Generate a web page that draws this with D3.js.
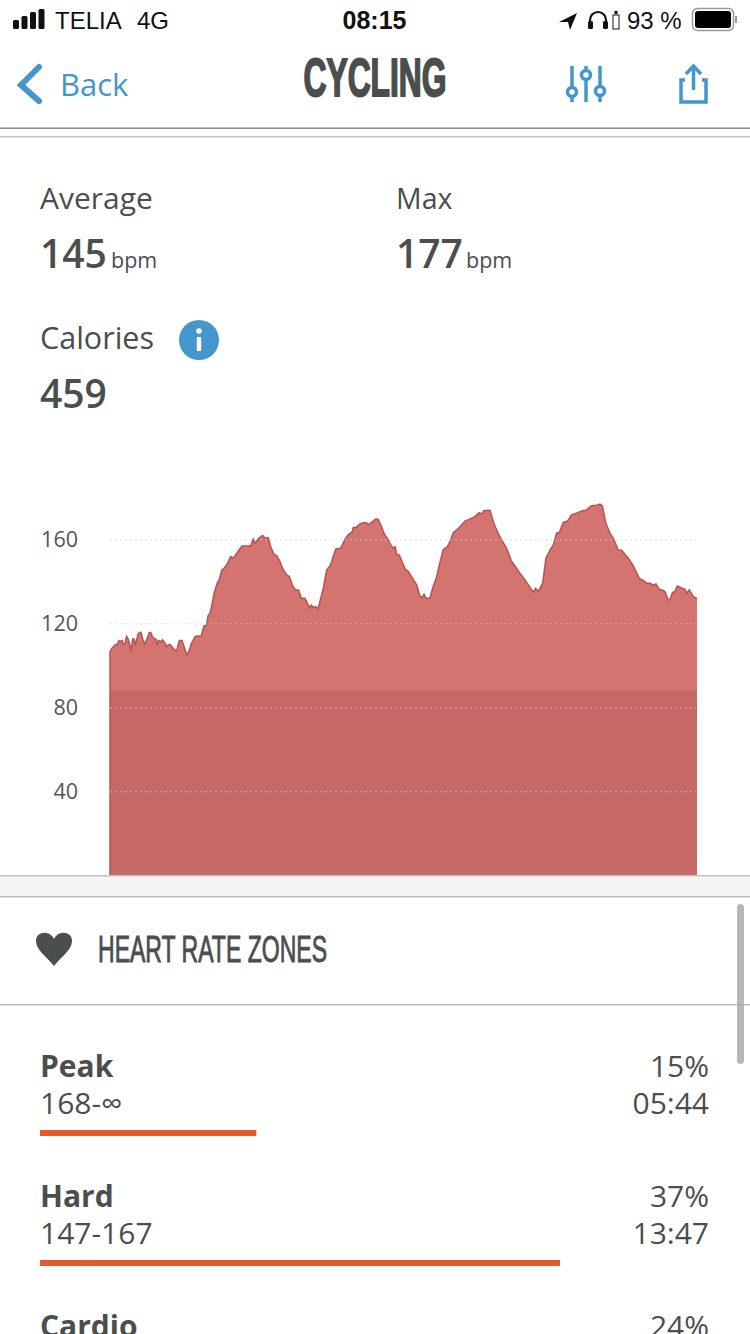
<!DOCTYPE html>
<html>
<head>
<meta charset="utf-8">
<script src="https://cdn.jsdelivr.net/npm/d3@7"></script>
<style>
  html, body { margin: 0; padding: 0; background: #fff; overflow: hidden; }
  svg { display: block; }
  text { font-family: "Open Sans", sans-serif; fill: #4a4e4f; }
  .status { font-family: "Liberation Sans", sans-serif; fill: #111; font-size: 24px; }
  .narrow { font-family: "Liberation Sans Narrow", "Liberation Sans", sans-serif; stroke: #4a4e4f; }
  .blue { fill: #4596cd; }
  .axis text { font-size: 21.5px; fill: #555; font-family: "Open Sans", sans-serif; }
  .axis .domain { display: none; }
  .axis line { stroke: #cfcfcf; stroke-opacity: 0.7; stroke-dasharray: 2 3; }
</style>
</head>
<body>
<svg width="750" height="1334"></svg>
<script>
const WIDTH = 750;
const HEIGHT = 1334;

// heart rate trace
const elapsedMin = [0,.13,.26,.38,.47,.55,.68,.77,.85,.94,1.06,1.15,1.23,1.34,1.45,1.53,1.62,1.7,1.81,1.98,2.09,2.21,2.34,2.51,2.6,2.73,2.94,3.02,3.11,3.24,3.36,3.49,3.62,3.75,3.87,4.05,4.26,4.43,4.6,4.73,4.9,5.07,5.19,5.41,5.54,5.83,6,6.17,6.26,6.39,6.51,6.64,6.81,6.98,7.15,7.28,7.45,7.71,7.88,8.09,8.43,8.98,9.15,9.26,9.5,9.75,9.92,10.11,10.26,10.47,10.64,10.86,11.07,11.33,11.45,11.67,11.84,12.05,12.22,12.45,12.77,12.86,12.99,13.16,13.29,13.46,13.63,13.84,14.09,14.26,14.43,14.73,15.01,15.22,15.48,15.54,15.71,15.97,16.18,16.39,16.48,16.71,16.99,17.14,17.35,17.5,17.78,17.93,18.1,18.22,18.31,18.48,18.7,18.87,19.04,19.29,19.59,19.8,19.93,20.06,20.19,20.44,20.61,20.87,21.04,21.29,21.55,21.72,21.93,22.19,22.36,22.68,23,23.32,23.57,23.74,23.89,24.27,24.49,24.74,25.02,25.34,25.66,25.87,26.19,26.51,26.94,27.04,27.19,27.36,27.64,27.85,28.11,28.32,28.53,28.7,28.96,29.24,29.49,29.81,30.13,30.45,30.55,30.77,31.09,31.3,31.45,31.68,31.94,32.15,32.47,32.68,33.11,33.43,33.81,34.11,34.28,34.54,34.66,34.88,35.09,35.34,35.45,35.66,35.77,35.94,36.07,36.24,36.41,36.73,36.84,37.01,37.26,37.5];
const bpm = [106.5,108.1,109.2,110,109.5,111.8,111.3,111.8,109.9,110.2,113.7,112.7,110.8,106.8,112.5,112.5,109.9,112.1,115.2,115.7,112.5,110,112.1,115.6,115.6,113.2,112.4,110,111.8,111.3,112.1,110.8,108.9,109.9,109.7,107.9,106.8,111.8,111.8,108.9,104.9,107.3,110.2,113.3,114,114,118.7,119.2,123.5,124.8,128.7,134,138.3,141,145.4,146.2,147.8,151.8,151,153.3,156.8,156.8,160,158.1,160.5,161.8,160.5,160.8,156.5,152.9,152.2,149.4,145.4,142.7,142.5,137.8,135.9,135.9,131.9,131.9,127.2,128.7,127.6,127.9,126.8,131.9,136.7,145.4,147.8,151.8,155.4,155.7,160,162.1,163.7,165.6,165.6,167.3,167.9,167.9,167,168.1,169.8,169.5,166,162.9,159.7,157.3,155.7,156.5,152.9,152.5,148.6,145.7,144.9,141.9,138.3,133,132.2,133.8,131.9,131.9,136.7,142.2,147.8,155.2,156.5,158.9,163.2,164.8,166,168.7,169.7,170.8,172.7,172.1,173.7,173.8,168.4,163.7,159.7,155.7,149.4,147.3,143.8,140.6,135.9,134.8,136.7,135.1,139.1,151,154.9,157.3,162.9,163.2,168.1,168.7,171.6,172.4,173.5,174,174.8,176,176.2,176.8,176,167.6,162.9,160.5,154.9,154.8,151,147.3,141.4,140.2,139.1,139.1,138.1,138.7,136.2,135.6,135.1,131.1,131.1,134.8,134.9,137.8,137.2,136.2,134.3,135.9,132.7,131.9];
const yTicks = [40, 80, 120, 160];
const restingBand = 88;

// zone list under the chart
const zoneNames = ['Peak', 'Hard', 'Cardio'];
const zoneRanges = ['168-∞', '147-167', ''];
const zonePercents = ['15%', '37%', '24%'];
const zoneTimes = ['05:44', '13:47', ''];
const zoneSeconds = [344, 827, null];

const svg = d3.select('svg').attr('viewBox', `0 0 ${WIDTH} ${HEIGHT}`);

function label(x, y, str, size, opts = {}) {
  return svg.append('text')
    .attr('x', x).attr('y', y)
    .attr('font-size', size)
    .attr('font-weight', opts.weight || 400)
    .attr('text-anchor', opts.anchor || 'start')
    .attr('class', opts.cls || null)
    .text(str);
}

function rule(y, color) {
  svg.append('rect').attr('x', 0).attr('y', y).attr('width', WIDTH).attr('height', 1.5).attr('fill', color);
}

// status bar
[[13, 20], [21.5, 16], [30, 12], [38.5, 9]].forEach(([x, y]) => {
  svg.append('rect').attr('x', x).attr('y', y).attr('width', 6).attr('height', 29 - y).attr('rx', 1.5).attr('fill', '#111');
});
label(55, 29, 'TELIA', 24, { cls: 'status' });
label(137, 29, '4G', 24, { cls: 'status' });
label(374.5, 29, '08:15', 25, { cls: 'status', anchor: 'middle' }).attr('font-weight', 600).style('font-size', '25px');
svg.append('path').attr('d', 'M559 22L577 13L570 30L568 22Z').attr('fill', '#111');
svg.append('path').attr('d', 'M590 27V20a8 8 0 0 1 16 0V27').attr('fill', 'none').attr('stroke', '#111').attr('stroke-width', 2.2);
svg.append('rect').attr('x', 588).attr('y', 21).attr('width', 5).attr('height', 8).attr('rx', 1.5).attr('fill', '#111');
svg.append('rect').attr('x', 603).attr('y', 21).attr('width', 5).attr('height', 8).attr('rx', 1.5).attr('fill', '#111');
svg.append('rect').attr('x', 613).attr('y', 15).attr('width', 6).attr('height', 14).attr('fill', 'none').attr('stroke', '#111').attr('stroke-width', 1);
svg.append('rect').attr('x', 614.5).attr('y', 11).attr('width', 3).attr('height', 3).attr('fill', '#111');
label(627, 29, '93 %', 24, { cls: 'status' });
svg.append('rect').attr('x', 692.5).attr('y', 8.5).attr('width', 41).attr('height', 22).attr('rx', 5).attr('fill', 'none').attr('stroke', '#999').attr('stroke-width', 1.5);
svg.append('rect').attr('x', 695).attr('y', 11).attr('width', 36).attr('height', 17).attr('rx', 3).attr('fill', '#000');
svg.append('rect').attr('x', 735).attr('y', 16).attr('width', 2).attr('height', 7).attr('fill', '#999');

// nav bar
svg.append('path').attr('d', 'M39 67L21 85L39 101').attr('fill', 'none').attr('stroke', '#4596cd').attr('stroke-width', 6).attr('stroke-linecap', 'round');
label(60, 96, 'Back', 31, { cls: 'blue' });
label(375, 96, 'CYCLING', 54, { cls: 'narrow', anchor: 'middle', weight: 700 })
  .attr('textLength', 143).attr('lengthAdjust', 'spacingAndGlyphs').attr('stroke-width', 2);
[[572, 92], [586, 75], [600, 91]].forEach(([x, cy]) => {
  svg.append('line').attr('x1', x).attr('x2', x).attr('y1', 66).attr('y2', 102).attr('stroke', '#4596cd').attr('stroke-width', 3.5);
  svg.append('circle').attr('cx', x).attr('cy', cy).attr('r', 4.5).attr('fill', '#fff').attr('stroke', '#4596cd').attr('stroke-width', 3.5);
});
svg.append('path').attr('d', 'M685 80H681V102H706V80H702').attr('fill', 'none').attr('stroke', '#4596cd').attr('stroke-width', 3.5);
svg.append('path').attr('d', 'M693.5 90V67M686 74L693.5 66L701 74').attr('fill', 'none').attr('stroke', '#4596cd').attr('stroke-width', 3.5);
rule(127.5, '#8b8b8b');
rule(136, '#c4c4c4');

// summary numbers
label(40, 209, 'Average', 30);
label(396, 209, 'Max', 28.5);
label(40, 268, '145', 39, { weight: 600 });
label(111, 268, 'bpm', 21.5);
label(396, 268, '177', 39, { weight: 600 });
label(466, 268, 'bpm', 21.5);
label(40, 349, 'Calories', 30.5);
label(40, 408, '459', 39, { weight: 600 });
svg.append('circle').attr('cx', 199).attr('cy', 340).attr('r', 20).attr('fill', '#4596cd');
svg.append('circle').attr('cx', 199).attr('cy', 331).attr('r', 2.8).attr('fill', '#fff');
svg.append('rect').attr('x', 196.8).attr('y', 337).attr('width', 4.4).attr('height', 14).attr('fill', '#fff');

// heart rate chart
const xScale = d3.scaleLinear().domain([0, 37.5]).range([110, 697]);
const yScale = d3.scaleLinear().domain([0, 160]).range([875.3, 539.3]);
const trace = elapsedMin.map((t, i) => [t, bpm[i]]);

const area = d3.area().x(d => xScale(d[0])).y0(yScale(0)).y1(d => yScale(d[1])).curve(d3.curveLinear);
const line = d3.line().x(d => xScale(d[0])).y(d => yScale(d[1])).curve(d3.curveLinear);

svg.append('path').datum(trace).attr('d', area).attr('fill', '#d37470');
svg.append('rect')
  .attr('x', xScale(0)).attr('width', xScale(37.5) - xScale(0))
  .attr('y', yScale(restingBand)).attr('height', yScale(0) - yScale(restingBand))
  .attr('fill', '#c66865');
svg.append('path').datum(trace).attr('d', line).attr('fill', 'none').attr('stroke', '#b9524f').attr('stroke-width', 1.5);
svg.append('line')
  .attr('x1', xScale(0)).attr('x2', xScale(0))
  .attr('y1', yScale(bpm[0])).attr('y2', yScale(0))
  .attr('stroke', '#b9524f').attr('stroke-width', 1.5);

const yAxis = d3.axisLeft(yScale)
  .tickValues(yTicks)
  .tickSize(-(xScale(37.5) - xScale(0) - 1))
  .tickPadding(32);
svg.append('g').attr('class', 'axis').attr('transform', `translate(${xScale(0)},0)`).call(yAxis);

// gap between chart and zones
svg.append('rect').attr('x', 0).attr('y', 875).attr('width', WIDTH).attr('height', 21).attr('fill', '#f5f5f5');
rule(875, '#c4c4c4');
rule(896, '#bdbdbd');

// section header
svg.append('path')
  .attr('d', 'M54 966C47 957 36 950 36 941C36 931 50 930 54 939C58 930 72 931 72 941C72 950 61 957 54 966Z')
  .attr('fill', '#4a4e4f');
label(98, 962, 'HEART RATE ZONES', 37, { cls: 'narrow' })
  .attr('textLength', 229).attr('lengthAdjust', 'spacingAndGlyphs').attr('stroke-width', 0.9);
rule(1004, '#bdbdbd');

// zone rows
const barScale = d3.scaleLinear().domain([0, 827]).range([0, 520]);
const rowY = d3.scaleLinear().domain([0, 1]).range([1077, 1207]);

zoneNames.forEach((name, i) => {
  const top = rowY(i);
  label(40, top, name, 30, { weight: 700 });
  label(709, top, zonePercents[i], 30, { anchor: 'end' });
  if (zoneRanges[i]) label(40, top + 37, zoneRanges[i], 30);
  if (zoneTimes[i]) label(709, top + 37, zoneTimes[i], 30, { anchor: 'end' });
  if (zoneSeconds[i]) {
    svg.append('rect').attr('x', 40).attr('y', top + 53).attr('height', 6)
      .attr('width', barScale(zoneSeconds[i])).attr('fill', '#e55a2b');
  }
});

// scroll indicator
svg.append('rect').attr('x', 737).attr('y', 904).attr('width', 7).attr('height', 160).attr('rx', 3.5).attr('fill', '#aaa').attr('opacity', 0.85);
</script>
</body>
</html>
